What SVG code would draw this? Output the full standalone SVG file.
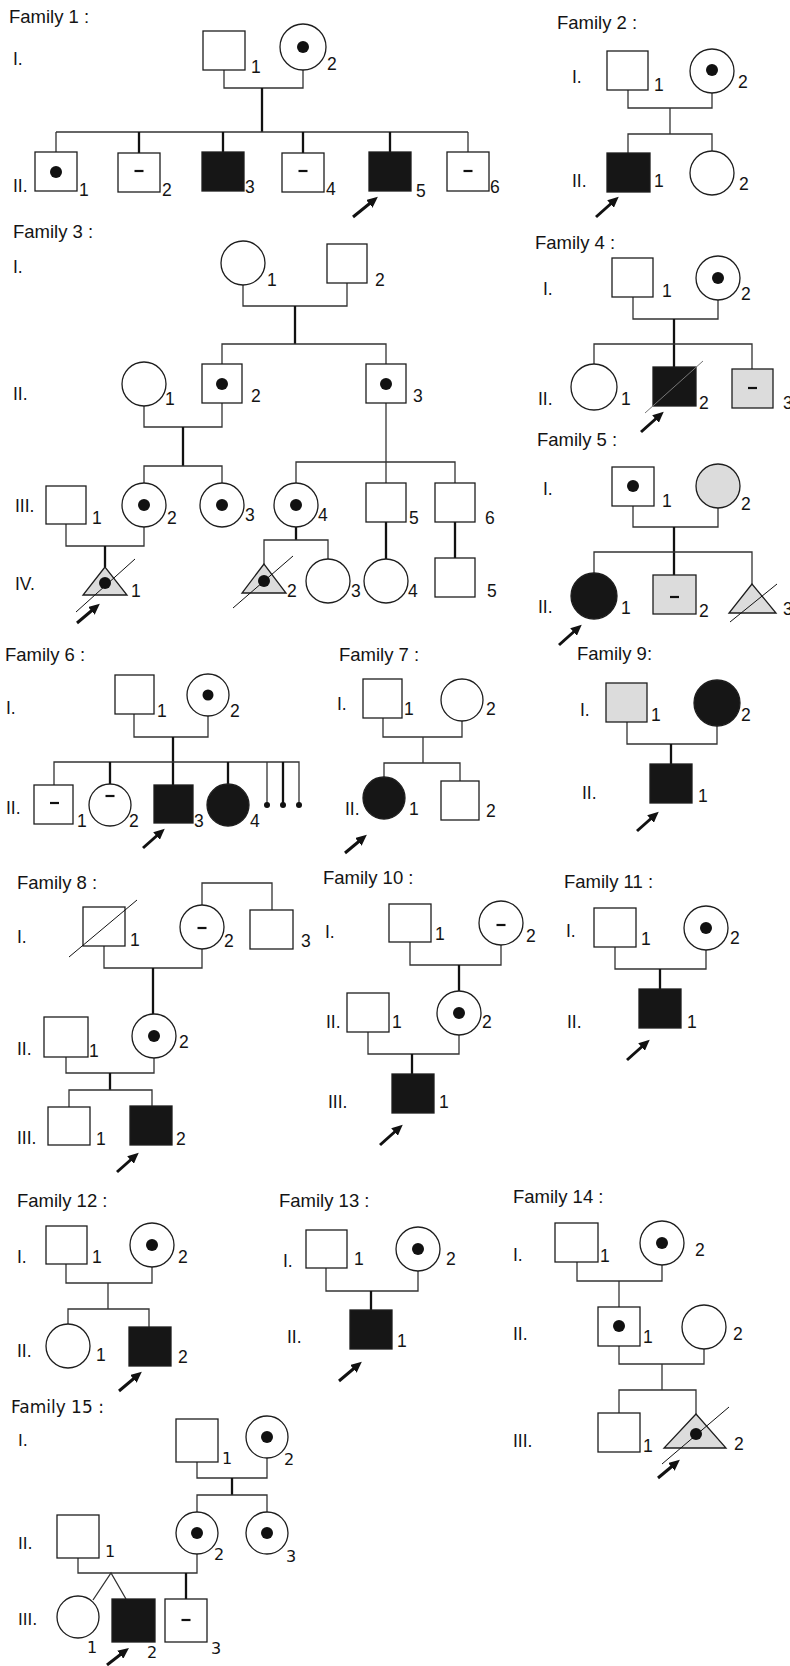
<svg xmlns="http://www.w3.org/2000/svg" width="790" height="1666" viewBox="0 0 790 1666">
<defs>
<marker id="ah" markerUnits="userSpaceOnUse" markerWidth="11" markerHeight="10" refX="6" refY="5" orient="auto">
<path d="M0,0 L11,5 L0,10 z" fill="#111"/>
</marker>
<style>
.nd{fill:#fff;stroke:#1e1e1e;stroke-width:1.3}
.aff{fill:#161616}
.gr{fill:#dcdcdc}
.dot{fill:#111;stroke:none}
.dash{stroke:#111;stroke-width:2.2}
.sl{stroke:#111;stroke-width:1;fill:none}
.sl2{stroke:#777;stroke-width:1;fill:none}
.ln{stroke:#333;stroke-width:1.3;fill:none}
.lb{stroke:#111;stroke-width:2.3;fill:none}
.arw{stroke:#111;stroke-width:3;marker-end:url(#ah)}
text{font-family:"Liberation Sans",Arial,sans-serif;font-size:17.5px;fill:#141414}
.ttl{font-size:18.5px}
.f15 text{font-family:"DejaVu Sans",Verdana,sans-serif;font-size:16px}
.f15 .ttl{font-size:17px}
</style>
</defs>
<rect width="790" height="1666" fill="#fff"/>

<!-- ===== Family 1 ===== -->
<g id="family1">
<text class="ttl" x="9" y="23">Family 1 :</text>
<text x="13" y="65">I.</text>
<text x="13" y="192">II.</text>
<g id="f1-connectors">
<path class="ln" d="M224,70 V88 H303 V70"/>
<path class="lb" d="M262,88 V132"/>
<path class="ln" d="M56,132 H468"/>
<path class="ln" d="M56,132 V152 M468,132 V152"/>
<path class="lb" d="M139,132 V153 M223,132 V152 M303,132 V153 M390,132 V152"/>
<line class="arw" x1="353" y1="217" x2="374" y2="200"/>
</g>
<g id="f1-I1"><rect class="nd" x="203" y="31" width="42" height="39"/><text x="251" y="73">1</text></g>
<g id="f1-I2"><circle class="nd" cx="303" cy="47" r="23"/><circle class="dot" cx="303" cy="47" r="6"/><text x="327" y="70">2</text></g>
<g id="f1-II1"><rect class="nd" x="35" y="152" width="42" height="39"/><circle class="dot" cx="56" cy="172" r="6"/><text x="79" y="196">1</text></g>
<g id="f1-II2"><rect class="nd" x="118" y="153" width="42" height="39"/><line class="dash" x1="134.5" y1="171" x2="143.5" y2="171"/><text x="162" y="196">2</text></g>
<g id="f1-II3"><rect class="nd aff" x="202" y="152" width="42" height="39"/><text x="245" y="193">3</text></g>
<g id="f1-II4"><rect class="nd" x="282" y="153" width="42" height="39"/><line class="dash" x1="298.5" y1="171" x2="307.5" y2="171"/><text x="326" y="195">4</text></g>
<g id="f1-II5"><rect class="nd aff" x="369" y="152" width="42" height="39"/><text x="416" y="197">5</text></g>
<g id="f1-II6"><rect class="nd" x="447" y="152" width="42" height="39"/><line class="dash" x1="463.5" y1="171" x2="472.5" y2="171"/><text x="490" y="193">6</text></g>
</g>

<!-- ===== Family 2 ===== -->
<g id="family2">
<text class="ttl" x="557" y="29">Family 2 :</text>
<text x="572" y="83">I.</text>
<text x="572" y="187">II.</text>
<g id="f2-connectors">
<path class="ln" d="M628,90 V108 H712 V93"/>
<path class="ln" d="M670,108 V134"/>
<path class="ln" d="M628,153 V134 H712 V151"/>
<line class="arw" x1="596" y1="217" x2="615" y2="200"/>
</g>
<g id="f2-I1"><rect class="nd" x="607" y="51" width="41" height="39"/><text x="654" y="91">1</text></g>
<g id="f2-I2"><circle class="nd" cx="712" cy="71" r="22"/><circle class="dot" cx="712" cy="70" r="6"/><text x="738" y="88">2</text></g>
<g id="f2-II1"><rect class="nd aff" x="607" y="153" width="43" height="39"/><text x="654" y="187">1</text></g>
<g id="f2-II2"><circle class="nd" cx="712" cy="173" r="22"/><text x="739" y="190">2</text></g>
</g>

<!-- ===== Family 3 ===== -->
<g id="family3">
<text class="ttl" x="13" y="238">Family 3 :</text>
<text x="13" y="273">I.</text>
<text x="13" y="400">II.</text>
<text x="15" y="512">III.</text>
<text x="15" y="590">IV.</text>
<g id="f3-connectors">
<path class="ln" d="M243,285 V306 H347 V283"/>
<path class="lb" d="M295,306 V344"/>
<path class="ln" d="M222,364 V344 H386 V364"/>
<path class="ln" d="M144,406 V427 H222 V403"/>
<path class="lb" d="M183,427 V466"/>
<path class="ln" d="M144,483 V466 H222 V483"/>
<path class="ln" d="M386,403 V483"/>
<path class="ln" d="M296,483 V462 H455 V483"/>
<path class="ln" d="M66,524 V546 H144 V527"/>
<path class="lb" d="M105,546 V567"/>
<path class="lb" d="M296,527 V540"/>
<path class="ln" d="M264,564 V540 H328 V559"/>
<path class="lb" d="M386,522 V559 M455,522 V558"/>
<line class="arw" x1="77" y1="623" x2="96" y2="607"/>
</g>
<g id="f3-I1"><circle class="nd" cx="243" cy="263" r="22"/><text x="267" y="286">1</text></g>
<g id="f3-I2"><rect class="nd" x="327" y="244" width="40" height="39"/><text x="375" y="286">2</text></g>
<g id="f3-II1"><circle class="nd" cx="144" cy="384" r="22"/><text x="165" y="405">1</text></g>
<g id="f3-II2"><rect class="nd" x="202" y="364" width="40" height="39"/><circle class="dot" cx="222" cy="384" r="6"/><text x="251" y="402">2</text></g>
<g id="f3-II3"><rect class="nd" x="366" y="364" width="40" height="39"/><circle class="dot" cx="386" cy="384" r="6"/><text x="413" y="402">3</text></g>
<g id="f3-III1"><rect class="nd" x="46" y="486" width="40" height="38"/><text x="92" y="524">1</text></g>
<g id="f3-III2"><circle class="nd" cx="144" cy="505" r="22"/><circle class="dot" cx="144" cy="505" r="6"/><text x="167" y="524">2</text></g>
<g id="f3-III3"><circle class="nd" cx="222" cy="505" r="22"/><circle class="dot" cx="222" cy="505" r="6"/><text x="245" y="521">3</text></g>
<g id="f3-III4"><circle class="nd" cx="296" cy="505" r="22"/><circle class="dot" cx="296" cy="505" r="6"/><text x="318" y="521">4</text></g>
<g id="f3-III5"><rect class="nd" x="366" y="483" width="40" height="39"/><text x="409" y="524">5</text></g>
<g id="f3-III6"><rect class="nd" x="435" y="483" width="40" height="39"/><text x="485" y="524">6</text></g>
<g id="f3-IV1"><polygon class="nd gr" points="105,567 83,595 127,595"/><circle class="dot" cx="105" cy="583" r="6"/><line class="sl" x1="76" y1="612" x2="135" y2="559"/><text x="131" y="597">1</text></g>
<g id="f3-IV2"><polygon class="nd gr" points="264,564 242,593 286,593"/><circle class="dot" cx="264" cy="581" r="6"/><line class="sl" x1="233" y1="608" x2="293" y2="556"/><text x="287" y="597">2</text></g>
<g id="f3-IV3"><circle class="nd" cx="328" cy="581" r="22"/><text x="351" y="597">3</text></g>
<g id="f3-IV4"><circle class="nd" cx="386" cy="581" r="22"/><text x="408" y="597">4</text></g>
<g id="f3-IV5"><rect class="nd" x="435" y="558" width="40" height="39"/><text x="487" y="597">5</text></g>
</g>

<!-- ===== Family 4 ===== -->
<g id="family4">
<text class="ttl" x="535" y="249">Family 4 :</text>
<text x="543" y="295">I.</text>
<text x="538" y="405">II.</text>
<g id="f4-connectors">
<path class="ln" d="M633,297 V319 H718 V300"/>
<path class="lb" d="M674,319 V367"/>
<path class="ln" d="M594,364 V344 H752 V369"/>
<line class="arw" x1="641" y1="432" x2="660" y2="415"/>
</g>
<g id="f4-I1"><rect class="nd" x="612" y="258" width="41" height="39"/><text x="662" y="297">1</text></g>
<g id="f4-I2"><circle class="nd" cx="718" cy="278" r="22"/><circle class="dot" cx="718" cy="278" r="6"/><text x="741" y="300">2</text></g>
<g id="f4-II1"><circle class="nd" cx="594" cy="387" r="23"/><text x="621" y="405">1</text></g>
<g id="f4-II2"><rect class="nd aff" x="653" y="367" width="43" height="39"/><line class="sl2" x1="645" y1="413" x2="703" y2="361"/><text x="699" y="409">2</text></g>
<g id="f4-II3"><rect class="nd gr" x="732" y="369" width="41" height="39"/><line class="dash" x1="748" y1="388" x2="757" y2="388"/><text x="783" y="409">3</text></g>
</g>

<!-- ===== Family 5 ===== -->
<g id="family5">
<text class="ttl" x="537" y="446">Family 5 :</text>
<text x="543" y="495">I.</text>
<text x="538" y="613">II.</text>
<g id="f5-connectors">
<path class="ln" d="M633,506 V527 H718 V508"/>
<path class="lb" d="M674,527 V575"/>
<path class="ln" d="M594,574 V552 H752 V584"/>
<line class="arw" x1="559" y1="645" x2="578" y2="628"/>
</g>
<g id="f5-I1"><rect class="nd" x="612" y="467" width="42" height="39"/><circle class="dot" cx="633" cy="486" r="6"/><text x="662" y="507">1</text></g>
<g id="f5-I2"><circle class="nd gr" cx="718" cy="486" r="22"/><text x="741" y="510">2</text></g>
<g id="f5-II1"><circle class="nd aff" cx="594" cy="596" r="23"/><text x="621" y="614">1</text></g>
<g id="f5-II2"><rect class="nd gr" x="653" y="575" width="43" height="39"/><line class="dash" x1="670" y1="597" x2="679" y2="597"/><text x="699" y="617">2</text></g>
<g id="f5-II3"><polygon class="nd gr" points="752,584 729,613 776,613"/><line class="sl" x1="730" y1="622" x2="777" y2="584"/><text x="783" y="615">3</text></g>
</g>

<!-- ===== Family 6 ===== -->
<g id="family6">
<text class="ttl" x="5" y="661">Family 6 :</text>
<text x="6" y="714">I.</text>
<text x="6" y="814">II.</text>
<g id="f6-connectors">
<path class="ln" d="M134,714 V737 H208 V716"/>
<path class="lb" d="M173,737 V785"/>
<path class="ln" d="M54,785 V762 H299 V804 M267,762 V804"/>
<path class="lb" d="M110,762 V784 M228,762 V784 M283,762 V804"/>
<circle class="dot" cx="267" cy="805" r="3"/>
<circle class="dot" cx="283" cy="805" r="3"/>
<circle class="dot" cx="299" cy="805" r="3"/>
<line class="arw" x1="143" y1="848" x2="161" y2="832"/>
</g>
<g id="f6-I1"><rect class="nd" x="115" y="675" width="39" height="39"/><text x="157" y="717">1</text></g>
<g id="f6-I2"><circle class="nd" cx="208" cy="695" r="21"/><circle class="dot" cx="208" cy="695" r="5.5"/><text x="230" y="717">2</text></g>
<g id="f6-II1"><rect class="nd" x="34" y="785" width="39" height="39"/><line class="dash" x1="50" y1="803" x2="59" y2="803"/><text x="77" y="827">1</text></g>
<g id="f6-II2"><circle class="nd" cx="110" cy="805" r="21"/><line class="dash" x1="105.5" y1="796" x2="114.5" y2="796"/><text x="129" y="827">2</text></g>
<g id="f6-II3"><rect class="nd aff" x="154" y="785" width="39" height="38"/><text x="194" y="827">3</text></g>
<g id="f6-II4"><circle class="nd aff" cx="228" cy="805" r="21"/><text x="250" y="827">4</text></g>
</g>

<!-- ===== Family 7 ===== -->
<g id="family7">
<text class="ttl" x="339" y="661">Family 7 :</text>
<text x="337" y="710">I.</text>
<text x="345" y="815">II.</text>
<g id="f7-connectors">
<path class="ln" d="M383,718 V737 H462 V721"/>
<path class="ln" d="M423,737 V763"/>
<path class="ln" d="M384,777 V763 H460 V781"/>
<line class="arw" x1="345" y1="853" x2="363" y2="838"/>
</g>
<g id="f7-I1"><rect class="nd" x="363" y="679" width="39" height="39"/><text x="404" y="715">1</text></g>
<g id="f7-I2"><circle class="nd" cx="462" cy="700" r="21"/><text x="486" y="715">2</text></g>
<g id="f7-II1"><circle class="nd aff" cx="384" cy="798" r="21"/><text x="409" y="815">1</text></g>
<g id="f7-II2"><rect class="nd" x="441" y="781" width="38" height="39"/><text x="486" y="817">2</text></g>
</g>

<!-- ===== Family 9 ===== -->
<g id="family9">
<text class="ttl" x="577" y="660">Family 9:</text>
<text x="580" y="716">I.</text>
<text x="582" y="799">II.</text>
<g id="f9-connectors">
<path class="ln" d="M627,722 V744 H717 V726"/>
<path class="lb" d="M671,744 V764"/>
<line class="arw" x1="637" y1="831" x2="655" y2="815"/>
</g>
<g id="f9-I1"><rect class="nd gr" x="606" y="683" width="41" height="39"/><text x="651" y="721">1</text></g>
<g id="f9-I2"><circle class="nd aff" cx="717" cy="703" r="23"/><text x="741" y="721">2</text></g>
<g id="f9-II1"><rect class="nd aff" x="650" y="764" width="42" height="39"/><text x="698" y="802">1</text></g>
</g>

<!-- ===== Family 8 ===== -->
<g id="family8">
<text class="ttl" x="17" y="889">Family 8 :</text>
<text x="17" y="943">I.</text>
<text x="17" y="1055">II.</text>
<text x="17" y="1144">III.</text>
<g id="f8-connectors">
<path class="ln" d="M202,905 V883 H272 V910"/>
<path class="ln" d="M104,946 V968 H202 V949"/>
<path class="lb" d="M153,968 V1014"/>
<path class="ln" d="M66,1057 V1073 H154 V1058"/>
<path class="lb" d="M110,1073 V1090"/>
<path class="ln" d="M69,1107 V1090 H152 V1106"/>
<line class="arw" x1="117" y1="1172" x2="135" y2="1156"/>
</g>
<g id="f8-I1"><rect class="nd" x="83" y="907" width="42" height="39"/><line class="sl" x1="69" y1="957" x2="137" y2="900"/><text x="130" y="946">1</text></g>
<g id="f8-I2"><circle class="nd" cx="202" cy="927" r="22"/><line class="dash" x1="197.5" y1="928" x2="206.5" y2="928"/><text x="224" y="947">2</text></g>
<g id="f8-I3"><rect class="nd" x="250" y="910" width="43" height="39"/><text x="301" y="947">3</text></g>
<g id="f8-II1"><rect class="nd" x="44" y="1017" width="44" height="40"/><text x="89" y="1057">1</text></g>
<g id="f8-II2"><circle class="nd" cx="154" cy="1036" r="22"/><circle class="dot" cx="154" cy="1036" r="6"/><text x="179" y="1048">2</text></g>
<g id="f8-III1"><rect class="nd" x="48" y="1107" width="42" height="38"/><text x="96" y="1145">1</text></g>
<g id="f8-III2"><rect class="nd aff" x="130" y="1106" width="42" height="39"/><text x="176" y="1145">2</text></g>
</g>

<!-- ===== Family 10 ===== -->
<g id="family10">
<text class="ttl" x="323" y="884">Family 10 :</text>
<text x="325" y="938">I.</text>
<text x="326" y="1028">II.</text>
<text x="328" y="1108">III.</text>
<g id="f10-connectors">
<path class="ln" d="M410,942 V965 H501 V945"/>
<path class="lb" d="M459,965 V991"/>
<path class="ln" d="M368,1032 V1054 H459 V1035"/>
<path class="lb" d="M412,1054 V1074"/>
<line class="arw" x1="380" y1="1145" x2="399" y2="1128"/>
</g>
<g id="f10-I1"><rect class="nd" x="389" y="904" width="42" height="38"/><text x="435" y="940">1</text></g>
<g id="f10-I2"><circle class="nd" cx="501" cy="923" r="22"/><line class="dash" x1="496.5" y1="925" x2="505.5" y2="925"/><text x="526" y="942">2</text></g>
<g id="f10-II1"><rect class="nd" x="347" y="993" width="42" height="39"/><text x="392" y="1028">1</text></g>
<g id="f10-II2"><circle class="nd" cx="459" cy="1013" r="22"/><circle class="dot" cx="459" cy="1013" r="6"/><text x="482" y="1028">2</text></g>
<g id="f10-III1"><rect class="nd aff" x="392" y="1074" width="42" height="39"/><text x="439" y="1108">1</text></g>
</g>

<!-- ===== Family 11 ===== -->
<g id="family11">
<text class="ttl" x="564" y="888">Family 11 :</text>
<text x="566" y="937">I.</text>
<text x="567" y="1028">II.</text>
<g id="f11-connectors">
<path class="ln" d="M615,947 V969 H706 V950"/>
<path class="lb" d="M660,969 V989"/>
<line class="arw" x1="627" y1="1060" x2="646" y2="1043"/>
</g>
<g id="f11-I1"><rect class="nd" x="594" y="908" width="42" height="39"/><text x="641" y="945">1</text></g>
<g id="f11-I2"><circle class="nd" cx="706" cy="928" r="22"/><circle class="dot" cx="706" cy="928" r="6"/><text x="730" y="944">2</text></g>
<g id="f11-II1"><rect class="nd aff" x="639" y="989" width="42" height="39"/><text x="687" y="1028">1</text></g>
</g>

<!-- ===== Family 12 ===== -->
<g id="family12">
<text class="ttl" x="17" y="1207">Family 12 :</text>
<text x="17" y="1263">I.</text>
<text x="17" y="1357">II.</text>
<g id="f12-connectors">
<path class="ln" d="M66,1264 V1283 H152 V1267"/>
<path class="ln" d="M108,1283 V1309"/>
<path class="ln" d="M68,1324 V1309 H149 V1327"/>
<line class="arw" x1="119" y1="1391" x2="138" y2="1375"/>
</g>
<g id="f12-I1"><rect class="nd" x="46" y="1226" width="41" height="38"/><text x="92" y="1263">1</text></g>
<g id="f12-I2"><circle class="nd" cx="152" cy="1245" r="22"/><circle class="dot" cx="152" cy="1245" r="6"/><text x="178" y="1263">2</text></g>
<g id="f12-II1"><circle class="nd" cx="68" cy="1346" r="22"/><text x="96" y="1361">1</text></g>
<g id="f12-II2"><rect class="nd aff" x="129" y="1327" width="42" height="39"/><text x="178" y="1363">2</text></g>
</g>

<!-- ===== Family 13 ===== -->
<g id="family13">
<text class="ttl" x="279" y="1207">Family 13 :</text>
<text x="283" y="1267">I.</text>
<text x="287" y="1343">II.</text>
<g id="f13-connectors">
<path class="ln" d="M326,1268 V1291 H418 V1271"/>
<path class="lb" d="M371,1291 V1310"/>
<line class="arw" x1="339" y1="1381" x2="358" y2="1365"/>
</g>
<g id="f13-I1"><rect class="nd" x="306" y="1230" width="41" height="38"/><text x="354" y="1265">1</text></g>
<g id="f13-I2"><circle class="nd" cx="418" cy="1249" r="22"/><circle class="dot" cx="418" cy="1249" r="6"/><text x="446" y="1265">2</text></g>
<g id="f13-II1"><rect class="nd aff" x="350" y="1310" width="42" height="39"/><text x="397" y="1347">1</text></g>
</g>

<!-- ===== Family 14 ===== -->
<g id="family14">
<text class="ttl" x="513" y="1203">Family 14 :</text>
<text x="513" y="1261">I.</text>
<text x="513" y="1340">II.</text>
<text x="513" y="1447">III.</text>
<g id="f14-connectors">
<path class="ln" d="M577,1262 V1281 H662 V1265"/>
<path class="ln" d="M619,1281 V1307"/>
<path class="ln" d="M619,1346 V1364 H704 V1349"/>
<path class="ln" d="M662,1364 V1390"/>
<path class="ln" d="M619,1413 V1390 H696 V1414"/>
<line class="arw" x1="658" y1="1478" x2="676" y2="1463"/>
</g>
<g id="f14-I1"><rect class="nd" x="555" y="1223" width="43" height="39"/><text x="600" y="1262">1</text></g>
<g id="f14-I2"><circle class="nd" cx="662" cy="1243" r="22"/><circle class="dot" cx="662" cy="1243" r="6"/><text x="695" y="1256">2</text></g>
<g id="f14-II1"><rect class="nd" x="598" y="1307" width="42" height="39"/><circle class="dot" cx="619" cy="1326" r="6"/><text x="643" y="1343">1</text></g>
<g id="f14-II2"><circle class="nd" cx="704" cy="1327" r="22"/><text x="733" y="1340">2</text></g>
<g id="f14-III1"><rect class="nd" x="598" y="1413" width="42" height="39"/><text x="643" y="1452">1</text></g>
<g id="f14-III2"><polygon class="nd gr" points="696,1414 664,1448 726,1448"/><circle class="dot" cx="696" cy="1434" r="6"/><line class="sl" x1="662" y1="1464" x2="729" y2="1407"/><text x="734" y="1450">2</text></g>
</g>

<!-- ===== Family 15 ===== -->
<g id="family15" class="f15">
<text class="ttl" x="11" y="1413">Family 15 :</text>
<text x="18" y="1446">I.</text>
<text x="18" y="1549">II.</text>
<text x="18" y="1625">III.</text>
<g id="f15-connectors">
<path class="ln" d="M197,1462 V1478 H267 V1458"/>
<path class="lb" d="M232,1478 V1495"/>
<path class="ln" d="M197,1512 V1495 H267 V1512"/>
<path class="ln" d="M78,1558 V1573 H197 V1554"/>
<path class="ln" d="M93,1600 L111,1573 L126,1599"/>
<path class="lb" d="M186,1573 V1599"/>
<line class="arw" x1="107" y1="1665" x2="125" y2="1651"/>
</g>
<g id="f15-I1"><rect class="nd" x="176" y="1419" width="42" height="43"/><text x="222" y="1464">1</text></g>
<g id="f15-I2"><circle class="nd" cx="267" cy="1437" r="21"/><circle class="dot" cx="267" cy="1437" r="6"/><text x="284" y="1465">2</text></g>
<g id="f15-II1"><rect class="nd" x="57" y="1515" width="42" height="43"/><text x="105" y="1557">1</text></g>
<g id="f15-II2"><circle class="nd" cx="197" cy="1533" r="21"/><circle class="dot" cx="197" cy="1533" r="6"/><text x="214" y="1560">2</text></g>
<g id="f15-II3"><circle class="nd" cx="267" cy="1533" r="21"/><circle class="dot" cx="267" cy="1533" r="6"/><text x="286" y="1562">3</text></g>
<g id="f15-III1"><circle class="nd" cx="78" cy="1617" r="21"/><text x="87" y="1653">1</text></g>
<g id="f15-III2"><rect class="nd aff" x="112" y="1599" width="43" height="43"/><text x="147" y="1658">2</text></g>
<g id="f15-III3"><rect class="nd" x="165" y="1599" width="42" height="43"/><line class="dash" x1="181.5" y1="1620" x2="190.5" y2="1620"/><text x="211" y="1654">3</text></g>
</g>
</svg>
